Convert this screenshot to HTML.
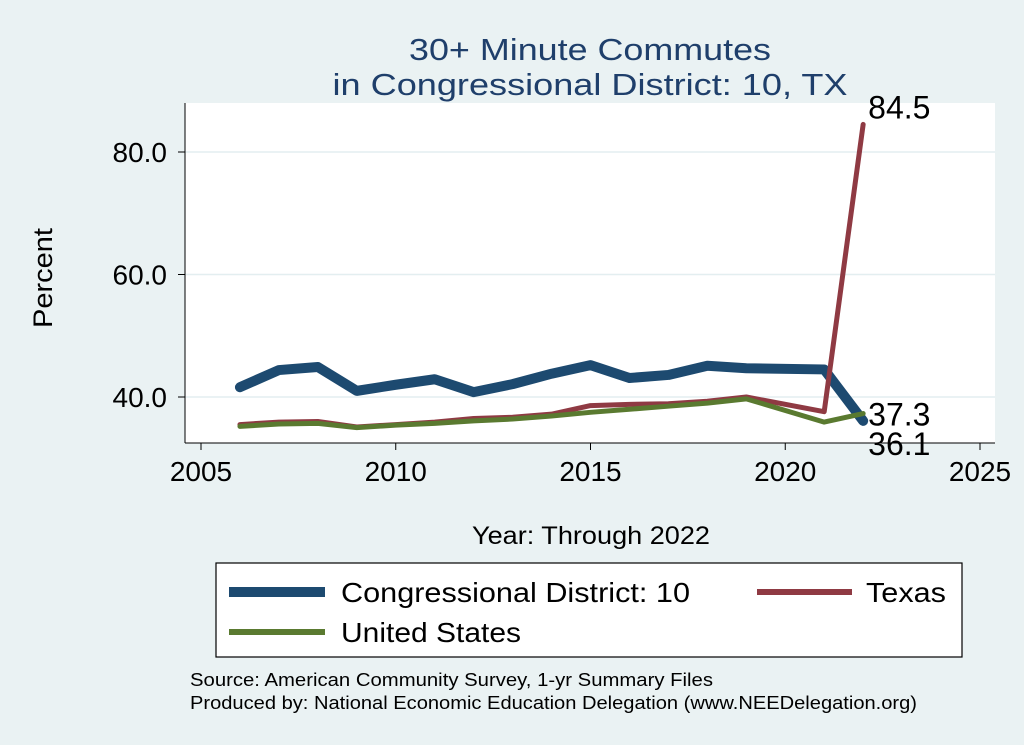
<!DOCTYPE html>
<html><head><meta charset="utf-8"><style>
body{margin:0;background:#eaf2f3;}
svg{display:block;font-family:"Liberation Sans",Arial,sans-serif;}
</style></head><body>
<svg id="chart" width="1024" height="745" viewBox="0 0 1024 745">
<rect x="0" y="0" width="1024" height="745" fill="#eaf2f3"/>
<text x="590" y="60" text-anchor="middle" font-size="31" textLength="362" lengthAdjust="spacingAndGlyphs" fill="#1f3f6b">30+ Minute Commutes</text>
<text x="590" y="95" text-anchor="middle" font-size="31" textLength="515" lengthAdjust="spacingAndGlyphs" fill="#1f3f6b">in Congressional District:  10, TX</text>
<rect x="185" y="103" width="810" height="340" fill="#ffffff"/>
<g id="grid"></g>
<line x1="185" y1="103" x2="185" y2="443" stroke="#000" stroke-width="1"/>
<line x1="185" y1="443" x2="995" y2="443" stroke="#000" stroke-width="1"/>
<g id="axes"></g>
<g id="series"></g>
<text x="52" y="278" text-anchor="middle" font-size="27" textLength="100" lengthAdjust="spacingAndGlyphs" transform="rotate(-90 52 278)">Percent</text>
<text x="591" y="544" text-anchor="middle" font-size="25" textLength="238" lengthAdjust="spacingAndGlyphs">Year: Through 2022</text>
<g>
<rect x="216" y="563" width="746" height="94" fill="#fff" stroke="#000" stroke-width="1.2"/>
<line x1="229" y1="592" x2="325" y2="592" stroke="#1d4a70" stroke-width="10"/>
<text x="341" y="602" font-size="28" textLength="349" lengthAdjust="spacingAndGlyphs">Congressional District:  10</text>
<line x1="757" y1="592" x2="852" y2="592" stroke="#8f3a43" stroke-width="6"/>
<text x="866" y="602" font-size="28" textLength="80" lengthAdjust="spacingAndGlyphs">Texas</text>
<line x1="229" y1="632" x2="325" y2="632" stroke="#5a7a30" stroke-width="6"/>
<text x="341" y="642" font-size="28" textLength="180" lengthAdjust="spacingAndGlyphs">United States</text>
</g>
<text x="190" y="686" font-size="18" textLength="523" lengthAdjust="spacingAndGlyphs">Source: American Community Survey, 1-yr Summary Files</text>
<text x="190" y="709" font-size="18" textLength="727" lengthAdjust="spacingAndGlyphs">Produced by: National Economic Education Delegation (www.NEEDelegation.org)</text>
</svg>
<script>
const years = [2006,2007,2008,2009,2010,2011,2012,2013,2014,2015,2016,2017,2018,2019,2021,2022];
const districtValues = [41.6,44.4,44.9,41.0,42.0,42.9,40.8,42.1,43.8,45.2,43.1,43.6,45.1,44.7,44.5,36.1];
const texasValues = [35.5,35.9,36.0,35.1,35.5,35.9,36.5,36.7,37.2,38.6,38.8,38.9,39.3,40.0,37.6,84.5];
const usValues = [35.2,35.6,35.7,35.0,35.4,35.7,36.1,36.4,36.9,37.5,38.0,38.5,39.0,39.7,35.9,37.3];
const xTicks = [2005,2010,2015,2020,2025];
const yTicks = [40,60,80];
const yTickLabels = ["40.0","60.0","80.0"];

const NS="http://www.w3.org/2000/svg";
function xs(v){return 201+(v-2005)*38.95;}
function ys(v){return 397-(v-40)*6.125;}
function mk(tag,attrs,parent){const e=document.createElementNS(NS,tag);for(const k in attrs)e.setAttribute(k,attrs[k]);parent.appendChild(e);return e;}
const grid=document.getElementById('grid'),axes=document.getElementById('axes'),series=document.getElementById('series');
yTicks.forEach((t,i)=>{
  const g=mk('line',{x1:185,x2:995,y1:ys(t),y2:ys(t),stroke:'#e3eef0','stroke-width':1.5},grid);
  
  
  const tk=mk('line',{x1:178,x2:185,y1:ys(t),y2:ys(t),stroke:'#000'},axes);
  
  
  const tl=mk('text',{x:167,y:ys(t)+10,'text-anchor':'end','font-size':28},axes);
  tl.textContent=yTickLabels[i];
  
  
});
xTicks.forEach(t=>{
  const tk=mk('line',{x1:xs(t),x2:xs(t),y1:443,y2:450,stroke:'#000'},axes);
  
  
  const tl=mk('text',{x:xs(t),y:481,'text-anchor':'middle','font-size':28},axes);
  tl.textContent=String(t);
  
  
});
function drawLine(vals,color,w,name){
  const p=mk('polyline',{points:years.map((y,i)=>xs(y)+','+ys(vals[i])).join(' '),fill:'none',stroke:color,'stroke-width':w,'stroke-linejoin':'round','stroke-linecap':'round'},series);
  
  
}
drawLine(districtValues,'#1d4a70',10,'line-district');
drawLine(texasValues,'#8f3a43',5,'line-texas');
drawLine(usValues,'#5a7a30',5,'line-us');
const n=years.length-1;
function endLabel(v,dy,name){
  const t=mk('text',{x:xs(years[n])+5,y:ys(v)+dy,'font-size':32},series);
  t.textContent=v.toFixed(1);
  
  
}
endLabel(texasValues[n],-6,'end-label-texas');
endLabel(usValues[n],12,'end-label-us');
endLabel(districtValues[n],34,'end-label-district');
</script>
</body></html>
